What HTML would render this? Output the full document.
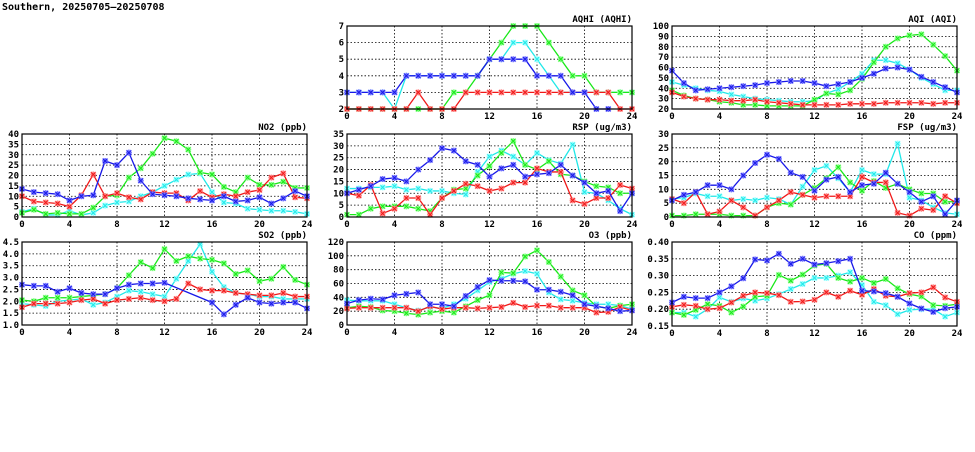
<!DOCTYPE html><html><head><meta charset="utf-8"><style>
body{margin:0;background:#fff;width:975px;height:447px;overflow:hidden}
svg text{font-family:"DejaVu Sans Mono","Liberation Mono",monospace;font-weight:bold;font-size:9px;fill:#000}
</style></head><body>
<svg id="s" width="975" height="447" xmlns="http://www.w3.org/2000/svg">
<text x="2" y="10" style="font-size:10px">Southern, 20250705–20250708</text>
</svg>
<script>
const S=document.getElementById('s');const NS='http://www.w3.org/2000/svg';
function el(t,a,txt){const e=document.createElementNS(NS,t);for(const k in a)e.setAttribute(k,a[k]);if(txt!=null)e.textContent=txt;S.appendChild(e);return e;}
const C={b:'#1818e8',c:'#20e8e8',g:'#18e818',r:'#f01818'};
const M={b:'#7070ff',c:'#90ffff',g:'#80ff80',r:'#ff8080'};
function panel(x0,x1,y0,y1,ymin,ymax,step,dec,title,data){
  // y0 top, y1 bottom
  const X=h=>x0+(x1-x0)*h/24, Y=v=>y1-(y1-y0)*(v-ymin)/(ymax-ymin);
  for(let v=ymin;v<=ymax+1e-9;v+=step){const y=Y(v);
    if(v>ymin+1e-9&&v<ymax-1e-9)el('line',{x1:x0,x2:x1,y1:y,y2:y,stroke:'#000','stroke-width':0.8,'stroke-dasharray':'1.5,2'});
    el('text',{x:x0-3,y:y+3,'text-anchor':'end'},v.toFixed(dec));}
  for(let h=0;h<=24;h+=4){const x=X(h);
    if(h>0&&h<24)el('line',{x1:x,x2:x,y1:y0,y2:y1,stroke:'#000','stroke-width':0.8,'stroke-dasharray':'1.5,2'});
    el('text',{x:x,y:y1+10,'text-anchor':'middle'},String(h));}
  el('text',{x:x1,y:y0-4,'text-anchor':'end'},title);
  for(const k of ['c','g','r','b']){const d=data[k];
    const pts=d.map((v,i)=>v==null?null:[X(i),Y(v)]).filter(p=>p);
    el('polyline',{points:pts.map(p=>p.join(',')).join(' '),fill:'none',stroke:C[k],'stroke-width':1.3});
    for(const [x,y] of pts){
      el('path',{d:`M${x-2.5},${y-2.5}L${x+2.5},${y+2.5}M${x-2.5},${y+2.5}L${x+2.5},${y-2.5}M${x},${y-3}L${x},${y+3}M${x-3},${y}L${x+3},${y}`,stroke:M[k],'stroke-width':1.6});
      el('path',{d:`M${x-2},${y-2}L${x+2},${y+2}M${x-2},${y+2}L${x+2},${y-2}`,stroke:C[k],'stroke-width':1});
    }}
  el('rect',{x:x0,y:y0,width:x1-x0,height:y1-y0,fill:'none',stroke:'#000','stroke-width':1.2});
}
panel(347,632,26,109,2,7,1,0,'AQHI (AQHI)',{
b:[3,3,3,3,3,4,4,4,4,4,4,4,5,5,5,5,4,4,4,3,3,2,2,null,null],
c:[3,3,3,3,2,4,4,4,4,4,4,4,5,5,6,6,5,4,3,3,3,3,3,3,3],
g:[2,2,2,2,2,2,2,2,2,3,3,4,5,6,7,7,7,6,5,4,4,3,3,3,3],
r:[2,2,2,2,2,2,3,2,2,2,3,3,3,3,3,3,3,3,3,3,3,3,3,2,2]});
panel(672,957,26,109,20,100,10,0,'AQI (AQI)',{
b:[57,45,38,39,40,41,42,43,45,46,47,47,45,42,44,46,50,54,59,60,58,51,46,41,36],
c:[46,43,40,38,37,34,32,30,29,28,27,27,28,35,39,46,54,67,67,64,58,50,44,38,38],
g:[38,33,30,29,27,26,24,24,23,23,23,23,29,35,34,38,49,65,80,88,91,92,82,71,57],
r:[36,32,30,29,29,28,28,29,27,26,25,24,24,24,24,25,25,25,26,26,26,26,25,26,26]});
panel(22,307,134,217,0,40,5,0,'NO2 (ppb)',{
b:[13.5,12,11.5,11,8,10,10.5,27,25,31,17.5,11,10.5,10,9,8.5,8,10,7.5,8,9.5,6.5,9,12.5,10],
c:[2.5,4,1,1,3,1,2,5.5,7,7.5,10,12,15,18,20.5,21,12,7,6.5,4,3.5,3,3,2.5,1.5],
g:[2,3.5,1.5,2,1.5,1.5,4.5,10,10.5,19,23.5,30.5,38,36.5,32.5,21.5,20.5,14.5,12,19,15.5,15.5,17,14,14],
r:[10,7.5,7,6.5,5,10.5,20.5,10,11.5,9.5,8.5,12,11.5,11.5,8,12.5,9.5,11,10,12,13,19,21,9.5,9]});
panel(22,307,242,325,1,4.5,0.5,1,'SO2 (ppb)',{
b:[2.7,2.65,2.65,2.4,2.55,2.35,2.3,2.3,2.55,2.7,2.75,2.75,2.78,null,null,null,1.95,1.45,1.85,2.15,1.95,1.9,1.95,1.95,1.7],
c:[1.9,1.85,1.8,2.0,2.05,2.1,1.85,1.95,2.2,2.45,2.4,2.3,2.2,2.95,3.7,4.4,3.25,2.6,2.35,2.3,2.2,2.2,2.1,2.1,2.1],
g:[2.05,2.0,2.15,2.15,2.15,2.2,2.25,2.3,2.55,3.1,3.65,3.4,4.2,3.7,3.9,3.8,3.75,3.6,3.15,3.3,2.85,2.95,3.45,2.9,2.7],
r:[1.75,1.9,1.9,1.9,1.95,2.05,2.1,1.9,2.05,2.1,2.15,2.05,2.0,2.1,2.75,2.5,2.45,2.45,2.35,2.3,2.25,2.25,2.35,2.2,2.2]});
panel(347,632,134,217,0,35,5,0,'RSP (ug/m3)',{
b:[10,11.5,13,16,16.5,15,20,24,29,28,23.5,22,17,20.5,22,17,18,18.5,22,17.5,14.5,10,11,2.5,10],
c:[12,12,12.5,12.5,13,11.5,12,11,11,10,9.5,19,25.5,28,25.5,22,27,24,22.5,30.5,10.5,10,7,3.5,1],
g:[1,1,3.5,4.5,4.5,4.5,3.5,2.5,8,11.5,12,17.5,21.5,27,32,22,20,23.5,18,17.5,15,13,12.5,10,10],
r:[10,9,13.5,1.5,3.5,8,8,1,8,11,14,13,11,12,14.5,14.5,20.5,19,19,7,5.5,8,8,13.5,12]});
panel(347,632,242,325,0,120,20,0,'O3 (ppb)',{
b:[31,36,38,37,43,45,47,30,30,27,42,55,65,64,64,63,51,51,48,43,30,27,24,20,21],
c:[36,35,35,35,30,25,21,26,24,30,38,50,62,67,74,78,74,47,37,35,32,30,30,28,23],
g:[25,27,26,21,20,17,15,18,20,18,27,36,43,76,75,99,108,91,70,50,43,27,24,28,30],
r:[24,25,25,25,25,25,20,27,23,25,25,24,25,26,32,26,28,28,25,25,25,18,19,26,21]});
panel(672,957,134,217,0,30,5,0,'FSP (ug/m3)',{
b:[6,8,9,11.5,11.5,10,15,19.5,22.5,21,16,14.5,9.5,13.5,14.5,9,11.5,12,16,12,9,5.5,7.5,1,6],
c:[6.5,7,8.5,7.5,7.5,6,6.5,6,7,6.5,4.5,11,17,18.5,14,9,17,15.5,15.5,26.5,7,6,3.5,1.5,1],
g:[0.5,0.5,1,1,1,0.5,0.5,0.5,3.5,5,4.5,8,10.5,14,18,12.5,9.5,13,10.5,12,10,8.5,8.5,5.5,5.5],
r:[6.5,5,9,1,2,6,3.5,0.5,3.5,6,9,8,7,7.5,7.5,7.5,14.5,12.5,12.5,1.5,0.5,3,2.5,7.5,5]});
panel(672,957,242,326,0.15,0.40,0.05,2,'CO (ppm)',{
b:[.22,.237,.233,.233,.25,.268,.292,.348,.345,.365,.335,.35,.333,.337,.343,.35,.255,.253,.248,.237,.217,.202,.192,.203,.207],
c:[.19,.19,.178,.2,.235,.222,.232,.225,.232,.245,.26,.275,.293,.293,.3,.31,.272,.222,.212,.185,.198,.2,.2,.178,.19],
g:[.19,.183,.198,.215,.21,.19,.208,.237,.24,.302,.285,.303,.33,.335,.293,.282,.293,.278,.29,.262,.245,.238,.212,.21,.215],
r:[.207,.213,.21,.2,.203,.22,.24,.25,.248,.242,.222,.223,.228,.25,.237,.255,.243,.26,.24,.237,.248,.25,.265,.235,.222]});
</script>
</body></html>
